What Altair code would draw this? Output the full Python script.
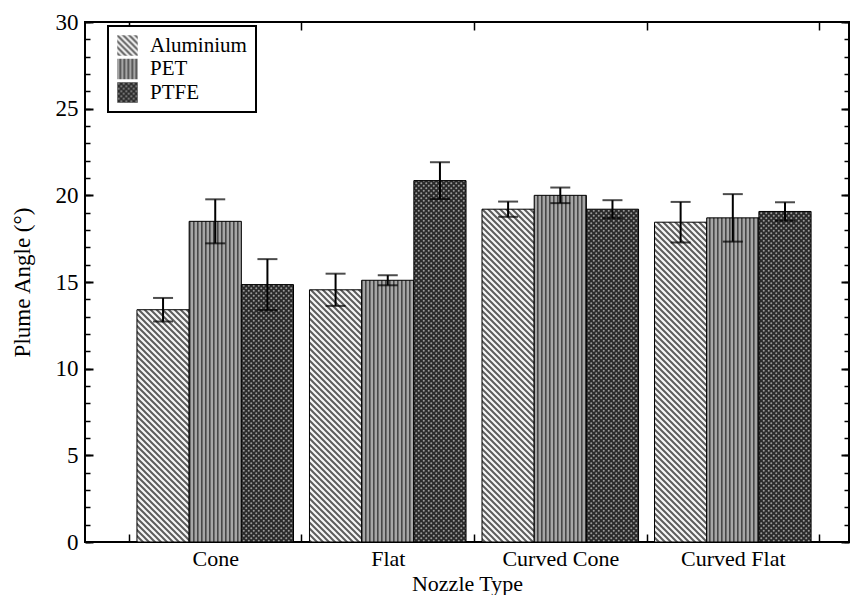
import altair as alt
import pandas as pd
import jinja2

# ---------------- data ----------------
nozzles = ["Cone", "Flat", "Curved Cone", "Curved Flat"]
materials = ["Aluminium", "PET", "PTFE"]
aluminium_mean = [13.4, 14.55, 19.2, 18.45]
aluminium_err = [0.68, 0.93, 0.44, 1.17]
pet_mean = [18.5, 15.1, 20.0, 18.7]
pet_err = [1.27, 0.29, 0.45, 1.37]
ptfe_mean = [14.85, 20.85, 19.2, 19.07]
ptfe_err = [1.47, 1.06, 0.52, 0.53]
y_major = [0, 5, 10, 15, 20, 25, 30]
y_minor = [0, 1, 2, 3, 4, 5, 6, 7, 8, 9, 10, 11, 12, 13, 14, 15, 16, 17, 18, 19,
           20, 21, 22, 23, 24, 25, 26, 27, 28, 29, 30]

means = {"Aluminium": aluminium_mean, "PET": pet_mean, "PTFE": ptfe_mean}
errs = {"Aluminium": aluminium_err, "PET": pet_err, "PTFE": ptfe_err}
rows = []
for m in materials:
    for i, n in enumerate(nozzles):
        rows.append({"nozzle": n, "material": m, "mean": means[m][i],
                     "lo": means[m][i] - errs[m][i], "hi": means[m][i] + errs[m][i]})
df = pd.DataFrame(rows)

pattern_urls = ["url(#patAl)", "url(#patPet)", "url(#patPtfe)"]

FONT = "Liberation Serif"

xs = alt.Scale(domain=nozzles, paddingInner=0, paddingOuter=0.2142, align=0.595)
xos = alt.Scale(domain=materials, paddingInner=0, paddingOuter=0.153)
ys = alt.Scale(domain=[0, 30], nice=False, zero=True)

base = alt.Chart(df)

bars = base.mark_bar(stroke="black", strokeWidth=1).encode(
    x=alt.X("nozzle:N", scale=xs, sort=nozzles,
            axis=alt.Axis(orient="bottom", title="Nozzle Type", tickBand="extent",
                          offset=-8, tickSize=8, tickWidth=1.5, labelAngle=0,
                          labelFontSize=22, titleFontSize=22,
                          labelPadding=6, titlePadding=4)),
    xOffset=alt.XOffset("material:N", scale=xos, sort=materials),
    y=alt.Y("mean:Q", scale=ys,
            axis=alt.Axis(orient="left", values=y_major, title="Plume Angle (°)",
                          offset=-8, tickSize=8, tickWidth=2, labelPadding=7,
                          titlePadding=21)),
    fill=alt.Fill("material:N", scale=alt.Scale(domain=materials, range=pattern_urls),
                  legend=alt.Legend(orient="none", legendX=23, legendY=4, title=None,
                                    fillColor="white", strokeColor="black", padding=9,
                                    symbolType="square", symbolSize=420,
                                    symbolStrokeWidth=0, labelFont=FONT,
                                    labelFontSize=21, labelOffset=12, rowPadding=1.5,
                                    labelColor="black")),
)

rules = base.mark_rule(color="black", strokeWidth=2).encode(
    x=alt.X("nozzle:N", sort=nozzles,
            axis=alt.Axis(orient="top", title=None, tickBand="extent", offset=-8,
                          tickSize=8, tickWidth=1.5, labels=False)),
    xOffset=alt.XOffset("material:N", sort=materials),
    y=alt.Y("lo:Q", axis=alt.Axis(orient="left", values=y_minor, title=None,
                                  offset=-5, tickSize=5, tickWidth=1.5, labels=False)),
    y2="hi:Q",
)

caps_hi = base.mark_tick(color="black", thickness=2, size=20).encode(
    x=alt.X("nozzle:N", sort=nozzles, axis=None),
    xOffset=alt.XOffset("material:N", sort=materials),
    y=alt.Y("hi:Q", axis=alt.Axis(orient="right", values=y_major, title=None,
                                  offset=-8, tickSize=8, tickWidth=2, labels=False)),
)

caps_lo = base.mark_tick(color="black", thickness=2, size=20).encode(
    x=alt.X("nozzle:N", sort=nozzles, axis=None),
    xOffset=alt.XOffset("material:N", sort=materials),
    y=alt.Y("lo:Q", axis=alt.Axis(orient="right", values=y_minor, title=None,
                                  offset=-5, tickSize=5, tickWidth=1.5, labels=False)),
)

chart = (
    alt.layer(bars, rules, caps_hi, caps_lo)
    .resolve_axis(x="independent", y="independent")
    .properties(width=764, height=520, background="white",
                padding={"left": 77, "top": 14, "right": 1, "bottom": 53},
                autosize=alt.AutoSizeParams(type="none"))
    .configure_view(stroke="black", strokeWidth=2)
    .configure_axis(labelFont=FONT, labelFontSize=23, titleFont=FONT, titleFontSize=23,
                    titleFontWeight="normal", labelColor="black", titleColor="black",
                    tickColor="black", grid=False, domain=False)
    .configure_legend(strokeWidth=2)
)

PATTERN_DEFS = """
<svg width="0" height="0" style="position:absolute;left:0;top:0" aria-hidden="true">
 <defs>
  <pattern id="patAl" patternUnits="userSpaceOnUse" width="6" height="6">
   <rect width="6" height="6" fill="#f6f6f6"/>
   <path d="M-1.5,4.5 L1.5,7.5 M0,0 L6,6 M4.5,-1.5 L7.5,1.5" stroke="#5c5c5c" stroke-width="2"/>
  </pattern>
  <pattern id="patPet" patternUnits="userSpaceOnUse" width="4" height="4">
   <rect width="4" height="4" fill="#a6a6a6"/>
   <rect x="0" y="0" width="1.6" height="4" fill="#474747"/>
  </pattern>
  <pattern id="patPtfe" patternUnits="userSpaceOnUse" width="5" height="5">
   <rect width="5" height="5" fill="#2a2a2a"/>
   <circle cx="1.25" cy="1.25" r="1" fill="#9a9a9a"/>
   <circle cx="3.75" cy="3.75" r="1" fill="#9a9a9a"/>
  </pattern>
 </defs>
</svg>
"""

TEMPLATE = jinja2.Template("""<!DOCTYPE html>
<html>
<head>
<meta charset="utf-8">
<style>
  #{{ output_div }}.vega-embed { width: 100%; display: flex; }
  #{{ output_div }}.vega-embed details,
  #{{ output_div }}.vega-embed details summary { position: relative; }
</style>
<script type="text/javascript" src="{{ base_url }}/vega@{{ vega_version }}"></script>
<script type="text/javascript" src="{{ base_url }}/vega-lite@{{ vegalite_version }}"></script>
<script type="text/javascript" src="{{ base_url }}/vega-embed@{{ vegaembed_version }}"></script>
</head>
<body>
""" + PATTERN_DEFS + """
<div id="{{ output_div }}"></div>
<script>
  vegaEmbed("#{{ output_div }}", {{ spec }}, {{ embed_options }}).catch(console.error);
</script>
</body>
</html>
""")

chart.save("out.html", embed_options={"renderer": "svg", "actions": False}, template=TEMPLATE)
